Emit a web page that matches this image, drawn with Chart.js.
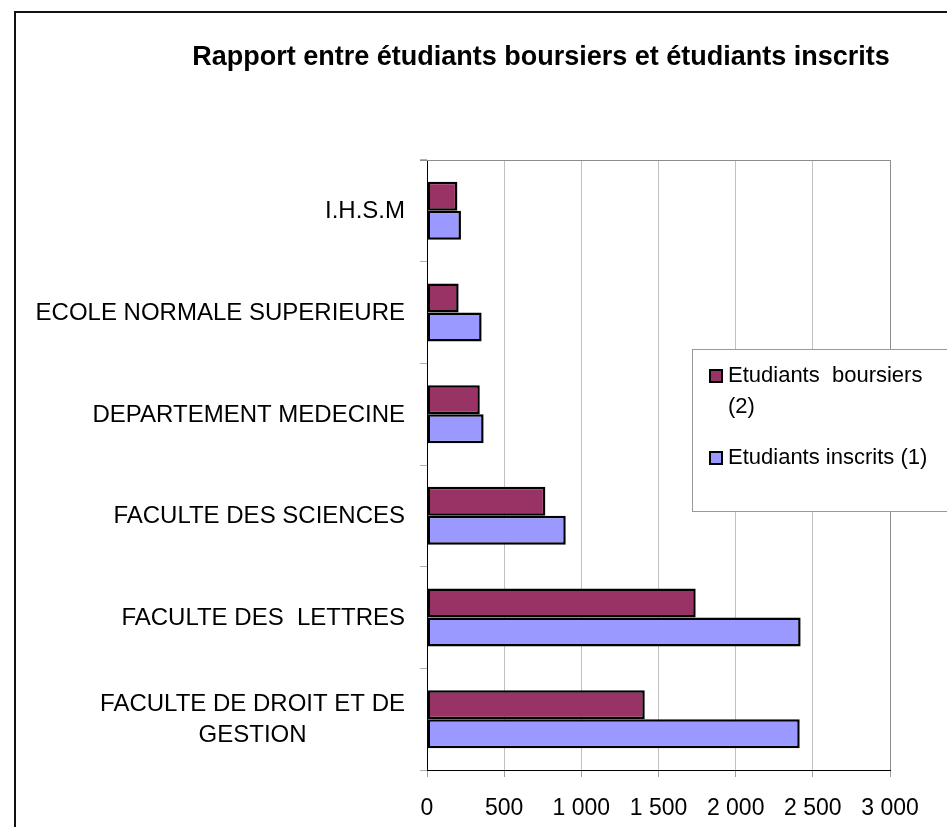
<!DOCTYPE html>
<html>
<head>
<meta charset="utf-8">
<script src="https://cdn.jsdelivr.net/npm/chart.js@4.4.0/dist/chart.umd.min.js"></script>
<style>
    html, body { margin: 0; padding: 0; background: #fff; }
    #wrap { position: relative; width: 947px; height: 827px; }
</style>
</head>
<body>
<div id="wrap"><canvas id="ratioCanvas" width="947" height="827"></canvas></div>
<script>
// donnees
var titre = 'Rapport entre étudiants boursiers et étudiants inscrits';
var etablissements = [
    ['I.H.S.M'],
    ['ECOLE NORMALE SUPERIEURE'],
    ['DEPARTEMENT MEDECINE'],
    ['FACULTE DES SCIENCES'],
    ['FACULTE DES  LETTRES'],
    ['FACULTE DE DROIT ET DE', 'GESTION']
];
var boursiers = [197, 205, 342, 767, 1741, 1411];
var inscrits = [220, 354, 367, 899, 2421, 2415];
var xMin = 0;
var xMax = 3000;
var xPas = 500;

function formatMilliers(v) {
    return String(v).replace(/\B(?=(\d{3})+(?!\d))/g, ' ');
}

function couperTexte(ctx, texte, largeurMax) {
    var mots = texte.split(' ');
    var lignes = [];
    var ligne = mots[0];
    for (var i = 1; i < mots.length; i++) {
        var essai = ligne + ' ' + mots[i];
        if (ctx.measureText(essai).width > largeurMax && mots[i] !== '') {
            lignes.push(ligne);
            ligne = mots[i];
        } else {
            ligne = essai;
        }
    }
    lignes.push(ligne);
    return lignes;
}

var decor = {
    id: 'decor',
    beforeDatasetsDraw: function(chart) {
        var a = chart.chartArea;
        var ctx = chart.ctx;
        ctx.save();
        // bord gris du cadre de trace (haut et droite)
        ctx.strokeStyle = '#8c8c8c';
        ctx.lineWidth = 1;
        ctx.beginPath();
        ctx.moveTo(a.left - 7, Math.round(a.top) + 0.5);
        ctx.lineTo(Math.round(a.right) + 0.5, Math.round(a.top) + 0.5);
        ctx.lineTo(Math.round(a.right) + 0.5, a.bottom);
        ctx.stroke();
        ctx.restore();
    },
    afterDraw: function(chart) {
        var ctx = chart.ctx;
        var yScale = chart.scales.y;
        ctx.save();

        // etiquettes des etablissements
        ctx.fillStyle = '#000';
        ctx.font = '24px "Liberation Sans", Arial, sans-serif';
        ctx.textAlign = 'center';
        ctx.textBaseline = 'middle';
        etablissements.forEach(function(lignes, i) {
            var yc = yScale.getPixelForValue(i);
            var large = 0;
            lignes.forEach(function(l) { large = Math.max(large, ctx.measureText(l).width); });
            var xc = yScale.right - 22 - large / 2;
            lignes.forEach(function(l, j) {
                ctx.fillText(l, xc, yc + 1 + (j - (lignes.length - 1) / 2) * 31);
            });
        });

        // titre
        ctx.font = 'bold 27px "Liberation Sans", Arial, sans-serif';
        ctx.textBaseline = 'alphabetic';
        ctx.fillText(titre, 541, 65);

        // legende
        ctx.fillStyle = '#fff';
        ctx.fillRect(692, 349, 260, 162);
        ctx.strokeStyle = '#999';
        ctx.lineWidth = 1;
        ctx.strokeRect(692.5, 349.5, 260, 162);
        ctx.font = '22px "Liberation Sans", Arial, sans-serif';
        ctx.textAlign = 'left';
        ctx.textBaseline = 'middle';
        var y = 376;
        chart.data.datasets.forEach(function(ds) {
            ctx.fillStyle = ds.backgroundColor;
            ctx.fillRect(710, y - 6, 12, 12);
            ctx.strokeStyle = '#000';
            ctx.lineWidth = 2;
            ctx.strokeRect(710, y - 6, 12, 12);
            ctx.fillStyle = '#000';
            couperTexte(ctx, ds.label, 205).forEach(function(l) {
                ctx.fillText(l, 728, y);
                y += 31;
            });
            y += 20;
        });

        // cadre exterieur
        ctx.strokeStyle = '#111';
        ctx.lineWidth = 2;
        ctx.strokeRect(15, 12, 1000, 1000);
        ctx.restore();
    }
};

Chart.defaults.font.family = '"Liberation Sans", Arial, sans-serif';
Chart.defaults.color = '#000';

var ctx = document.getElementById('ratioCanvas').getContext('2d');
var chart = new Chart(ctx, {
    type: 'bar',
    data: {
        labels: etablissements,
        datasets: [{
            label: 'Etudiants  boursiers (2)',
            backgroundColor: '#993366',
            borderColor: '#000',
            borderWidth: 2.5,
            borderSkipped: false,
            data: boursiers
        }, {
            label: 'Etudiants inscrits (1)',
            backgroundColor: '#9999FF',
            borderColor: '#000',
            borderWidth: 2.5,
            borderSkipped: false,
            data: inscrits
        }]
    },
    options: {
        indexAxis: 'y',
        responsive: false,
        animation: false,
        categoryPercentage: 0.57,
        barPercentage: 1,
        layout: {
            padding: { top: 160, right: 57, bottom: 0, left: 0 }
        },
        plugins: {
            legend: { display: false },
            title: { display: false }
        },
        scales: {
            x: {
                type: 'linear',
                position: 'bottom',
                min: xMin,
                max: xMax,
                ticks: {
                    stepSize: xPas,
                    padding: 18,
                    font: { size: 23 },
                    color: '#000',
                    callback: function(v) { return formatMilliers(v); }
                },
                grid: {
                    color: '#c0c0c0',
                    tickColor: '#a0a0a0',
                    tickLength: 7
                },
                border: { color: '#000', width: 1 },
                afterFit: function(s) { s.height = 57; }
            },
            y: {
                ticks: { display: false },
                grid: {
                    drawOnChartArea: false,
                    offset: true,
                    color: '#b0b0b0',
                    tickLength: 7
                },
                border: { color: '#000', width: 1 },
                afterFit: function(s) { s.width = 427; }
            }
        }
    },
    plugins: [decor]
});
</script>
</body>
</html>
